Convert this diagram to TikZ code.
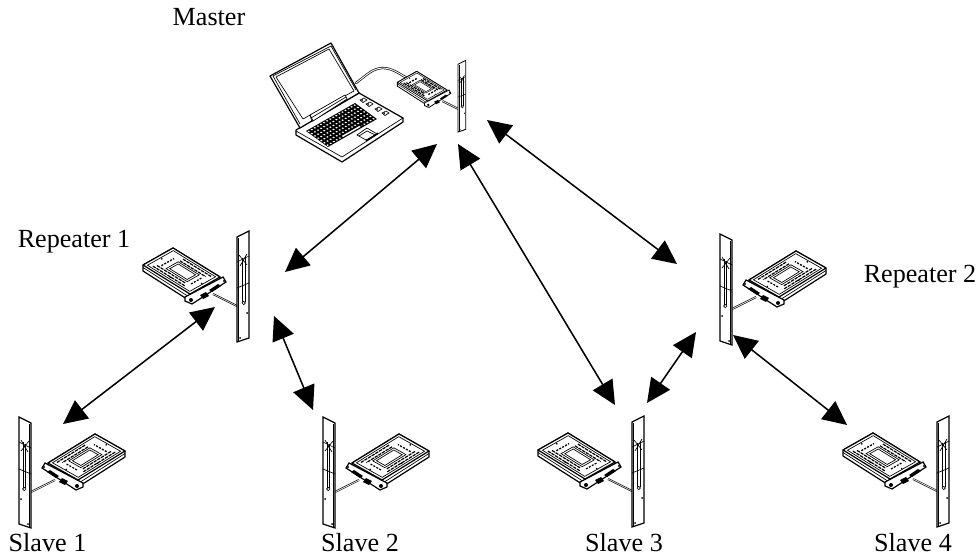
\documentclass[tikz,border=0pt]{standalone}
\usepackage{fontspec}
\setmainfont{Liberation Serif}
\usetikzlibrary{arrows.meta}
\newcommand{\qd}[4]{({#1},{#2})--({#3},{#2})--({#3},{#4})--({#1},{#4})--cycle}
\tikzset{
  lw/.style={line width=.5pt},
  lwb/.style={line width=.9pt},
  lbl/.style={font=\fontsize{19.6pt}{21pt}\selectfont,inner sep=0pt,anchor=base},
  link/.style={line width=1.15pt,{Triangle[length=18pt,width=17pt]}-{Triangle[length=18pt,width=17pt]}},
  radio/.pic={
    % cable (double line)
    \draw[line width=1.5pt] (-24,-48)--(0,-36);
    \draw[white,line width=.5pt] (-24,-48)--(0,-36);
    % antenna
    \draw[lwb,fill=white] (0,0)--(0,-105)--(12,-111)--(12,-4)--cycle;
    \draw[lw] (1.5,-1)--(1.5,-104);
    \draw[lw] (0,-80)--(12,-86) (0,-54)--(12,-59);
    \draw[lw] (2,-87)--(10,-77) (10,-88)--(3,-76);
    \draw[line width=.7pt] (5.5,-84)--(5.5,-40) (8,-86)--(8,-40);
    \draw[lw] (6.7,-39) circle[radius=1.7];
    \fill (10,-29) circle[radius=1];
    \fill (3,-4) circle[radius=1];
    % modem side
    \draw[lwb,fill=white,line join=round] (-94,-77)--(-94,-71)--(-47,-41)--(-17,-59)--(-17,-65)--(-64,-94)--cycle;
    \draw[lw] (-94,-74.5)--(-47,-44.5)--(-17,-62);
    % flange
    \draw[lwb,fill=white] (-52,-45)--(-14,-65)--(-11,-60)--(-45,-38)--(-52,-41)--cycle;
    \fill (-46,-42) circle[radius=2];
    \fill (-13,-61) circle[radius=1.2];
    \fill (-37,-47) --(-31,-50)--(-28,-46)--(-34,-43)--cycle;
    \fill (-28,-52) --(-19,-58)--(-16,-56)--(-25,-50)--cycle;
    % top face
    \begin{scope}[shift={(-94,-77)},x={(35.25pt,-21.75pt)},y={(22.5pt,12.75pt)}]
      \draw[lwb,fill=white,line join=round] \qd{0}{0}{1}{1};
      \draw[lw] \qd{.05}{.07}{.95}{.93};
      \draw[lw] \qd{.3}{.3}{.75}{.7};
      \draw[lw,fill=white] \qd{.34}{.36}{.71}{.64};
      \draw[line width=.9pt,dash pattern=on 2.5pt off .7pt] (.3,.86)--(.9,.86);
      \draw[line width=.9pt,dash pattern=on 2.5pt off .7pt] (.3,.76)--(.85,.76);
      \draw[line width=.9pt,dash pattern=on 2.5pt off .7pt] (.12,.14)--(.8,.14);
      \draw[line width=.9pt,dash pattern=on 2.5pt off .7pt] (.15,.23)--(.75,.23);
      \draw[line width=1pt,dash pattern=on 1.5pt off 1pt] (.2,.3)--(.2,.72);
      \draw[line width=.9pt,dash pattern=on 1.5pt off 1pt] (.83,.3)--(.83,.68);
      \foreach \a/\b in {.08/.5,.5/.13,.93/.5}{\fill (\a,\b) circle[radius=.7pt];}
    \end{scope}
  }
}
\begin{document}
\begin{tikzpicture}[x=.75pt,y=-.75pt]
\useasboundingbox (0,0) rectangle (980,559);
% laptop
\draw[line width=1.7pt,line cap=round] (356,83).. controls (368,74) and (372,69) .. (382,68) .. controls (392,68) and (398,73) .. (407,78);
\draw[white,line width=.7pt,line cap=round] (356,83).. controls (368,74) and (372,69) .. (382,68) .. controls (392,68) and (398,73) .. (407,78);
\draw[lwb,fill=white,line join=round] (296,130)--(296,135)--(342,162)--(403,122)--(403,118)--(359,93)--cycle;
\draw[lw] (296,131)--(342,157)--(403,118);
\draw[lwb,fill=white,line join=round] (300,128)--(270,76)--(331,43)--(359,93)--cycle;
\draw[lw] (300,124)--(273,76) -- (331,46) -- (356,90);
\draw[lw] (303,119)--(276,77)--(329,49)--(354,91)--(303,119);
\draw[lw,fill=white] (310,115)--(345,95)--(347,99)--(313,121)--cycle;
\draw[lw] (311,118)--(346,97);
\draw[lw] (310,115)--(312,122);
\begin{scope}[shift={(306,131)},x={(36.75pt,21pt)},y={(16.5pt,-12pt)}]
  \fill \qd{0}{0}{1}{1};
  \foreach \i in {0,...,6}{\foreach \j in {0,...,15}{
    \fill[white] \qd{(\j+.22)/16}{(\i+.28)/7}{(\j+.62)/16}{(\i+.66)/7};}}
  \fill \qd{.3}{.86}{.72}{.98};
  \fill[white] \qd{.33}{.89}{.69}{.95};
\end{scope}
\foreach \kx/\ky in {360/100,366/104,375/109,382/113}{
  \draw[lw,fill=white] (\kx,\ky)--(\kx+4,\ky-2)--(\kx+7,\ky)--(\kx+3,\ky+2.5)--cycle;
  \fill (\kx+2,\ky) circle[radius=1];
}
\draw[lw,fill=white] (357,135)--(367,128)--(377,134)--(366,140)--cycle;
\draw[lw] (359,136)--(367,131)--(375,135);
\draw[lwb] (366,141)--(378,133);
% radios
\begin{scope}[lw/.style={line width=.35pt},lwb/.style={line width=.6pt}]
  \pic (master) at (458,132) [scale=.645] {radio};
\end{scope}
\pic (rep1) at (237,342) {radio};
\pic (rep2) at (732,345) [xscale=-1] {radio};
\pic (sl1) at (31,528) [xscale=-1] {radio};
\pic (sl2) at (335,528) [xscale=-1] {radio};
\pic (sl3) at (632,527) {radio};
\pic (sl4) at (937,527) {radio};
% connector ends
\coordinate (mA) at (437,144);
\coordinate (mB) at (458,144);
\coordinate (mC) at (487,120);
\coordinate (r1M) at (285,272);
\coordinate (r1A) at (215,307);
\coordinate (r1B) at (274,316);
\coordinate (s1) at (63,424);
\coordinate (s2) at (313,410);
\coordinate (s3M) at (615,405);
\coordinate (s3R) at (647,403);
\coordinate (r2M) at (677,264);
\coordinate (r2S) at (696,332);
\coordinate (r2T) at (733,335);
\coordinate (s4) at (847,425);
\draw[link] (mA)--(r1M);
\draw[link] (mB)--(s3M);
\draw[link] (mC)--(r2M);
\draw[link] (r1A)--(s1);
\draw[link] (r1B)--(s2);
\draw[link] (r2S)--(s3R);
\draw[link] (r2T)--(s4);
% labels
\node[lbl] (tm) at (209,26) {Master};
\node[lbl] (tr1) at (74,248) {Repeater 1};
\node[lbl] (tr2) at (920,282) {Repeater 2};
\node[lbl] (ts1) at (47.5,551) {Slave 1};
\node[lbl] (ts2) at (360,551) {Slave 2};
\node[lbl] (ts3) at (624,551) {Slave 3};
\node[lbl] (ts4) at (913,551) {Slave 4};
\end{tikzpicture}
\end{document}
